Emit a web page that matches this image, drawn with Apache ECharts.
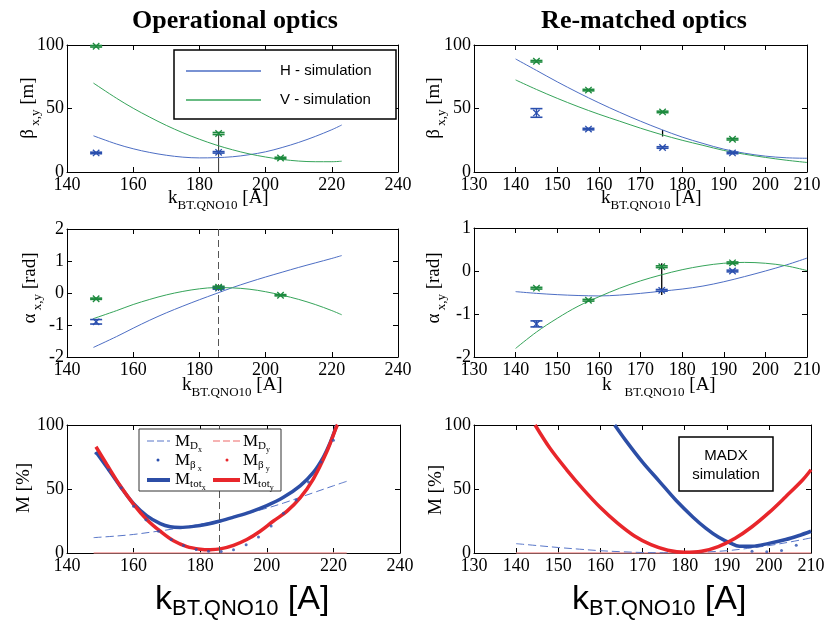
<!DOCTYPE html>
<html><head><meta charset="utf-8">
<script src="https://cdn.jsdelivr.net/npm/echarts@6/dist/echarts.min.js"></script>
<style>html,body{margin:0;padding:0;background:#fff}#c{width:831px;height:627px}</style>
</head><body><div id="c"></div>
<script>
// ---------- DATA ----------
// Panel 1: operational optics, beta [m] vs current [A]
const opBetaH = [[148,28.5],[155,22],[160,18.3],[165,15.4],[170,13.2],[175,11.7],[180,11.1],[185,11.3],[190,12],[195,13.6],[200,15.9],[205,19.3],[210,23.3],[215,28],[220,33.3],[223,37]];
const opBetaV = [[148,70],[155,58],[160,50.2],[165,43.2],[170,36.7],[175,30.9],[180,25.8],[185,21.3],[190,17.5],[195,14.3],[200,11.8],[205,9.9],[210,8.6],[215,8.1],[220,8.1],[223,8.5]];
const opBetaHMeas = [[148.8,15,0.6],[185.8,15.5,0.6]];
const opBetaVMeas = [[148.8,99,0.6],[185.8,30.3,0.8],[204.5,11,0.6]];
const opBetaMarker = [[185.8,0],[185.8,30]];
// Panel 2: re-matched optics, beta
const rmBetaH = [[140,89],[145,80],[150,71],[155,62.5],[160,54.5],[165,47],[170,40],[175,33.5],[180,27.5],[185,22.5],[190,18],[195,14.8],[200,12.5],[205,11.2],[210,10.8]];
const rmBetaV = [[140,72.5],[145,65],[150,58],[155,51.5],[160,45.5],[165,40],[170,34.5],[175,29.5],[180,25],[185,21],[190,17],[195,14],[200,11.5],[205,9.3],[210,7.5]];
const rmBetaHMeas = [[145,46.5,3.4],[157.5,33.8,0.6],[175.3,19.3,0.6],[192.1,15,0.6]];
const rmBetaVMeas = [[145,87.2,0.6],[157.5,64.5,0.6],[175.3,47.3,0.6],[192.1,25.8,0.6]];
const rmBetaMarker = [[175.3,28],[175.3,33]];
// Panel 3: operational optics, alpha [rad]
const opAlphaH = [[148,-1.7],[155,-1.36],[160,-1.1],[165,-0.85],[170,-0.62],[175,-0.41],[180,-0.21],[185,-0.02],[190,0.17],[195,0.34],[200,0.5],[205,0.65],[210,0.8],[215,0.94],[220,1.08],[223,1.17]];
const opAlphaV = [[148,-0.8],[155,-0.55],[160,-0.36],[165,-0.2],[170,-0.06],[175,0.05],[180,0.13],[185,0.17],[190,0.16],[195,0.12],[200,0.04],[205,-0.07],[210,-0.2],[215,-0.36],[220,-0.55],[223,-0.68]];
const opAlphaHMeas = [[148.8,-0.9,0.07],[185.8,0.15,0.03]];
const opAlphaVMeas = [[148.8,-0.18,0.02],[185.8,0.18,0.03],[204.5,-0.07,0.02]];
const opCurrent = 185.8;
// Panel 4: re-matched optics, alpha
const rmAlphaH = [[140,-0.48],[145,-0.52],[150,-0.55],[155,-0.57],[160,-0.58],[165,-0.56],[170,-0.52],[175,-0.47],[180,-0.42],[185,-0.35],[190,-0.25],[195,-0.13],[200,0.0],[205,0.14],[210,0.3]];
const rmAlphaV = [[140,-1.8],[145,-1.42],[150,-1.1],[155,-0.82],[160,-0.6],[165,-0.4],[170,-0.23],[175,-0.09],[180,0.03],[185,0.12],[190,0.18],[195,0.2],[200,0.18],[205,0.12],[210,0.01]];
const rmAlphaHMeas = [[145,-1.23,0.07],[175.1,-0.45,0.02],[192.1,0.0,0.02]];
const rmAlphaVMeas = [[145,-0.4,0.02],[157.5,-0.68,0.02],[175.1,0.1,0.02],[192.1,0.19,0.02]];
const rmAlphaMarker = [[175.1,-0.56],[175.1,0.18]];
// Panel 5: operational optics, mismatch M [%]
const opMtotX = [[148.7,79],[152,67],[156,52],[160,38.5],[164,29],[168,23],[171,20.5],[174,20],[178,20.8],[182,22.5],[186,25],[190,28],[195,32],[200,37],[205,43.5],[210,52.5],[214,63],[217,75],[219,86],[221,100]];
const opMtotY = [[148.7,83],[152,69],[156,52.5],[160,38],[164,26],[168,17],[172,9.5],[176,5],[180,3],[183,2.6],[186,3.2],[190,6],[194,10.5],[198,17],[202,25],[206,32.5],[210,43],[214,58],[218,79],[221,99],[221.3,100]];
const opMDx = [[148,12],[155,13.3],[160,14.5],[165,16.2],[170,18],[175,20.2],[180,22.5],[185,25],[190,28],[195,31.5],[200,35],[205,39],[210,43.5],[215,48],[220,52.5],[224,56]];
const opMDy = [[148,0],[224,0]];
const opMBetaX = [[148.7,78],[152.5,65],[156.3,51],[160,36.5],[163.7,26],[167.5,17],[171.3,10.5],[175,5.8],[178.8,2.8],[182.5,1.3],[186.3,1.2],[190,2.6],[193.8,6.5],[197.5,12.5],[201.3,21],[205,31],[208.8,41.5],[212.5,55.5],[216.3,71],[220,88]];
// Panel 6: re-matched optics, mismatch M [%]
const rmMtotX = [[163.4,100],[166,88],[170,71],[174,56],[178,41],[182,28],[185,19.5],[188,12.5],[191,7.5],[193,5.3],[196,5.3],[200,7.5],[204,10.5],[207,13.5],[210,17]];
const rmMtotY = [[144.5,100],[148,82],[152,65],[156,49.5],[160,35.5],[164,23.5],[168,13.5],[172,6.5],[176,2.2],[180,0.5],[184,1.3],[188,5],[192,11.5],[196,20.5],[200,31.5],[204,44],[208,57],[210,65]];
const rmMDx = [[140,7.3],[145,5.8],[150,4.3],[155,3],[160,1.8],[165,1],[170,0.4],[175,0.2],[180,0.3],[185,0.8],[190,1.8],[195,3.6],[200,5.8],[205,8.6],[210,11.8]];
const rmMDy = [[140,0],[210,0]];
const rmMBetaX = [[196,1.3],[199.5,1],[203,2],[206.5,6]];
// Axis ranges / tick labels
const opXRange = {min:140, max:240, interval:20};
const rmXRange = {min:130, max:210, interval:10};
const betaYRange = {min:0, max:100, interval:50};
const opAlphaYRange = {min:-2, max:2, interval:1};
const rmAlphaYRange = {min:-2, max:1, interval:1};
const mYRange = {min:0, max:100, interval:50};

// ---------- STYLE ----------
const SERIF = 'Liberation Serif', SANS = 'Liberation Sans';
const cH = '#4d6ec4', cV = '#36a45a', cHm = '#2a4fae', cVm = '#1d8a3e';
const cBlue = '#2c4ea6', cRed = '#e8262b', cPink = '#f39a9a';

const grids = [
  {left:67, top:45, width:331, height:127},
  {left:474, top:45, width:333, height:127},
  {left:67, top:229, width:331, height:128},
  {left:474, top:228, width:333, height:129},
  {left:67, top:425, width:333, height:128},
  {left:474, top:425, width:337, height:128}
];
const xAxes = [], yAxes = [];
function addAxes(g, xr, yr){
  const line = {show:true, onZero:false, lineStyle:{color:'#000', width:1}};
  const tick = {show:true, inside:true, length:5, lineStyle:{color:'#000', width:1}};
  const lab = {fontFamily:SERIF, fontSize:18, color:'#000'};
  xAxes.push({type:'value', gridIndex:g, position:'bottom', min:xr.min, max:xr.max, interval:xr.interval,
    axisLine:line, axisTick:tick, splitLine:{show:false},
    axisLabel:Object.assign({margin:4, showMinLabel:true, showMaxLabel:true}, lab)});
  xAxes.push({type:'value', gridIndex:g, position:'top', min:xr.min, max:xr.max, interval:xr.interval,
    axisLine:line, axisTick:tick, splitLine:{show:false}, axisLabel:{show:false}});
  yAxes.push({type:'value', gridIndex:g, position:'left', min:yr.min, max:yr.max, interval:yr.interval,
    axisLine:line, axisTick:tick, splitLine:{show:false},
    axisLabel:Object.assign({margin:3, showMinLabel:true, showMaxLabel:true}, lab)});
  yAxes.push({type:'value', gridIndex:g, position:'right', min:yr.min, max:yr.max, interval:yr.interval,
    axisLine:line, axisTick:tick, splitLine:{show:false}, axisLabel:{show:false}});
}
addAxes(0, opXRange, betaYRange);
addAxes(1, rmXRange, betaYRange);
addAxes(2, opXRange, opAlphaYRange);
addAxes(3, rmXRange, rmAlphaYRange);
addAxes(4, opXRange, mYRange);
addAxes(5, rmXRange, mYRange);

function lineS(g, data, color, width, extra){
  return Object.assign({type:'line', xAxisIndex:2*g, yAxisIndex:2*g, data:data, symbol:'none', showSymbol:false,
    smooth:0.35, lineStyle:{color:color, width:width}, itemStyle:{color:color}, z:3, silent:true}, extra||{});
}
function errItem(params, api){
  const x = api.value(0), y = api.value(1), e = api.value(2);
  const c = api.coord([x, y]), lo = api.coord([x, y - e]), hi = api.coord([x, y + e]);
  const col = api.visual('color');
  const w = 6, s = 3.2;
  const st = {stroke:col, lineWidth:1.3};
  return {type:'group', children:[
    {type:'line', shape:{x1:c[0], y1:lo[1], x2:c[0], y2:hi[1]}, style:st},
    {type:'line', shape:{x1:c[0]-w, y1:lo[1], x2:c[0]+w, y2:lo[1]}, style:{stroke:col, lineWidth:1.6}},
    {type:'line', shape:{x1:c[0]-w, y1:hi[1], x2:c[0]+w, y2:hi[1]}, style:{stroke:col, lineWidth:1.6}},
    {type:'line', shape:{x1:c[0]-s, y1:c[1]-s, x2:c[0]+s, y2:c[1]+s}, style:st},
    {type:'line', shape:{x1:c[0]-s, y1:c[1]+s, x2:c[0]+s, y2:c[1]-s}, style:st}
  ]};
}
function errS(g, data, color){
  return {type:'custom', xAxisIndex:2*g, yAxisIndex:2*g, data:data, renderItem:errItem,
    encode:{x:0, y:1}, itemStyle:{color:color}, z:6, clip:false, silent:true};
}
function dotS(g, data, color){
  return {type:'scatter', xAxisIndex:2*g, yAxisIndex:2*g, data:data, symbol:'circle', symbolSize:3,
    itemStyle:{color:color}, z:4, silent:true};
}
const vDash = {symbol:'none', silent:true, label:{show:false},
  lineStyle:{type:[7,4], color:'#555', width:1}, data:[{xAxis:opCurrent}]};

const series = [
  // Panel 1
  lineS(0, opBetaMarker, '#333', 1, {smooth:false}),
  lineS(0, opBetaH, cH, 1), lineS(0, opBetaV, cV, 1),
  errS(0, opBetaHMeas, cHm), errS(0, opBetaVMeas, cVm),
  // Panel 2
  lineS(1, rmBetaMarker, '#000', 1.3, {smooth:false}),
  lineS(1, rmBetaH, cH, 1), lineS(1, rmBetaV, cV, 1),
  errS(1, rmBetaHMeas, cHm), errS(1, rmBetaVMeas, cVm),
  // Panel 3
  lineS(2, opAlphaH, cH, 1, {markLine:vDash}), lineS(2, opAlphaV, cV, 1),
  errS(2, opAlphaHMeas, cHm), errS(2, opAlphaVMeas, cVm),
  // Panel 4
  lineS(3, rmAlphaMarker, '#000', 1.3, {smooth:false}),
  lineS(3, rmAlphaH, cH, 1), lineS(3, rmAlphaV, cV, 1),
  errS(3, rmAlphaHMeas, cHm), errS(3, rmAlphaVMeas, cVm),
  // Panel 5
  lineS(4, opMDy, cPink, 1.5, {smooth:false}),
  lineS(4, opMDx, '#5876c8', 1, {lineStyle:{color:'#5876c8', width:1, type:[8,4]}, markLine:vDash}),
  dotS(4, opMBetaX, cHm),
  lineS(4, opMtotX, cBlue, 3.5), lineS(4, opMtotY, cRed, 3.5),
  // Panel 6
  lineS(5, rmMDy, cPink, 1.5, {smooth:false}),
  lineS(5, rmMDx, '#5876c8', 1, {lineStyle:{color:'#5876c8', width:1, type:[8,4]}}),
  dotS(5, rmMBetaX, cHm),
  lineS(5, rmMtotX, cBlue, 3.5), lineS(5, rmMtotY, cRed, 3.5)
];

// ---------- TEXT / ANNOTATIONS ----------
const serifRich = {
  g:{fontFamily:SERIF, fontSize:19, lineHeight:28, verticalAlign:'middle', fill:'#000'},
  s:{fontFamily:SERIF, fontSize:13, lineHeight:14, verticalAlign:'bottom', fill:'#000'}
};
function yLabel(x, y, text){
  return {type:'text', x:x, y:y, rotation:Math.PI/2, z:10,
    style:{text:text, rich:serifRich, align:'center', verticalAlign:'middle'}};
}
function xLabel(x, y, text){
  return {type:'text', x:x, y:y, z:10,
    style:{text:text, rich:serifRich, align:'left', verticalAlign:'middle'}};
}
const bigRich = {
  k:{fontFamily:SANS, fontSize:34, lineHeight:40, verticalAlign:'middle', fill:'#000'},
  s:{fontFamily:SANS, fontSize:22, lineHeight:28, verticalAlign:'bottom', fill:'#000'}
};
function bigLabel(x, y){
  return {type:'text', x:x, y:y, z:10,
    style:{text:'{k|k}{s|BT.QNO10}{k| [A]}', rich:bigRich, align:'left', verticalAlign:'middle'}};
}
const legRich = {
  m:{fontFamily:SERIF, fontSize:17, lineHeight:24, verticalAlign:'middle', fill:'#000'},
  s:{fontFamily:SERIF, fontSize:11, lineHeight:14, verticalAlign:'bottom', fill:'#000', padding:[0,0,2,0]},
  ss:{fontFamily:SERIF, fontSize:8, lineHeight:8, verticalAlign:'bottom', fill:'#000'}
};
function legText(x, y, text){
  return {type:'text', x:x, y:y, z:21, style:{text:text, rich:legRich, align:'left', verticalAlign:'middle'}};
}
function seg(x1, y1, x2, y2, color, w, dash){
  return {type:'line', z:21, shape:{x1:x1, y1:y1, x2:x2, y2:y2}, style:{stroke:color, lineWidth:w, lineDash:dash||null}};
}

const graphics = [
  {type:'text', x:235, y:21, z:10, style:{text:'Operational optics', font:'bold 26px "Liberation Serif"', fill:'#000', align:'center', verticalAlign:'middle'}},
  {type:'text', x:644, y:21, z:10, style:{text:'Re-matched optics', font:'bold 26px "Liberation Serif"', fill:'#000', align:'center', verticalAlign:'middle'}},
  yLabel(28, 108, '{g|β}{s| x,y}{g| [m]}'),
  yLabel(434, 108, '{g|β}{s| x,y}{g| [m]}'),
  yLabel(30, 288, '{g|α}{s| x,y}{g| [rad]}'),
  yLabel(434, 288, '{g|α}{s| x,y}{g| [rad]}'),
  yLabel(24, 488, '{g|M [%]}'),
  yLabel(436, 490, '{g|M [%]}'),
  xLabel(168, 198, '{g|k}{s|BT.QNO10}{g| [A]}'),
  xLabel(601, 198, '{g|k}{s|BT.QNO10}{g| [A]}'),
  xLabel(182, 385, '{g|k}{s|BT.QNO10}{g| [A]}'),
  xLabel(602, 385, '{g|k}{s|    BT.QNO10}{g| [A]}'),
  bigLabel(155, 600),
  bigLabel(572, 600),
  // Legend panel 1
  {type:'rect', z:20, shape:{x:174, y:50, width:222, height:69}, style:{fill:'#fff', stroke:'#000', lineWidth:1.5}},
  seg(186, 71, 261, 71, cH, 1.5), seg(186, 100, 261, 100, cV, 1.5),
  {type:'text', x:280, y:71, z:21, style:{text:'H - simulation', font:'15px "Liberation Sans"', fill:'#000', align:'left', verticalAlign:'middle'}},
  {type:'text', x:280, y:100, z:21, style:{text:'V - simulation', font:'15px "Liberation Sans"', fill:'#000', align:'left', verticalAlign:'middle'}},
  // Legend panel 5
  {type:'rect', z:20, shape:{x:139, y:429, width:142, height:62}, style:{fill:'#fff', stroke:'#333', lineWidth:1}},
  seg(147, 441, 170, 441, '#5876c8', 1, [7,3]),
  {type:'circle', z:21, shape:{cx:158, cy:460, r:1.5}, style:{fill:cHm}},
  seg(147, 480, 170, 480, cBlue, 4),
  seg(213, 441, 240, 441, cPink, 1.5, [7,3]),
  {type:'circle', z:21, shape:{cx:227, cy:460, r:1.5}, style:{fill:cRed}},
  seg(213, 480, 240, 480, cRed, 4),
  legText(175, 442, '{m|M}{s|D}{ss|x}'),
  legText(175, 461, '{m|M}{s|β}{ss| x}'),
  legText(175, 480, '{m|M}{s|tot}{ss|x}'),
  legText(243, 442, '{m|M}{s|D}{ss|y}'),
  legText(243, 461, '{m|M}{s|β}{ss| y}'),
  legText(243, 480, '{m|M}{s|tot}{ss|y}'),
  // MADX box panel 6
  {type:'rect', z:20, shape:{x:679, y:437, width:94, height:54}, style:{fill:'#fff', stroke:'#000', lineWidth:1.5}},
  {type:'text', x:726, y:456, z:21, style:{text:'MADX', font:'15px "Liberation Sans"', fill:'#000', align:'center', verticalAlign:'middle'}},
  {type:'text', x:726, y:475, z:21, style:{text:'simulation', font:'15px "Liberation Sans"', fill:'#000', align:'center', verticalAlign:'middle'}}
];

const chart = echarts.init(document.getElementById('c'), null, {renderer:'canvas'});
chart.setOption({
  animation:false,
  backgroundColor:'#fff',
  grid:grids,
  xAxis:xAxes,
  yAxis:yAxes,
  series:series,
  graphic:{elements:graphics}
});
</script></body></html>
